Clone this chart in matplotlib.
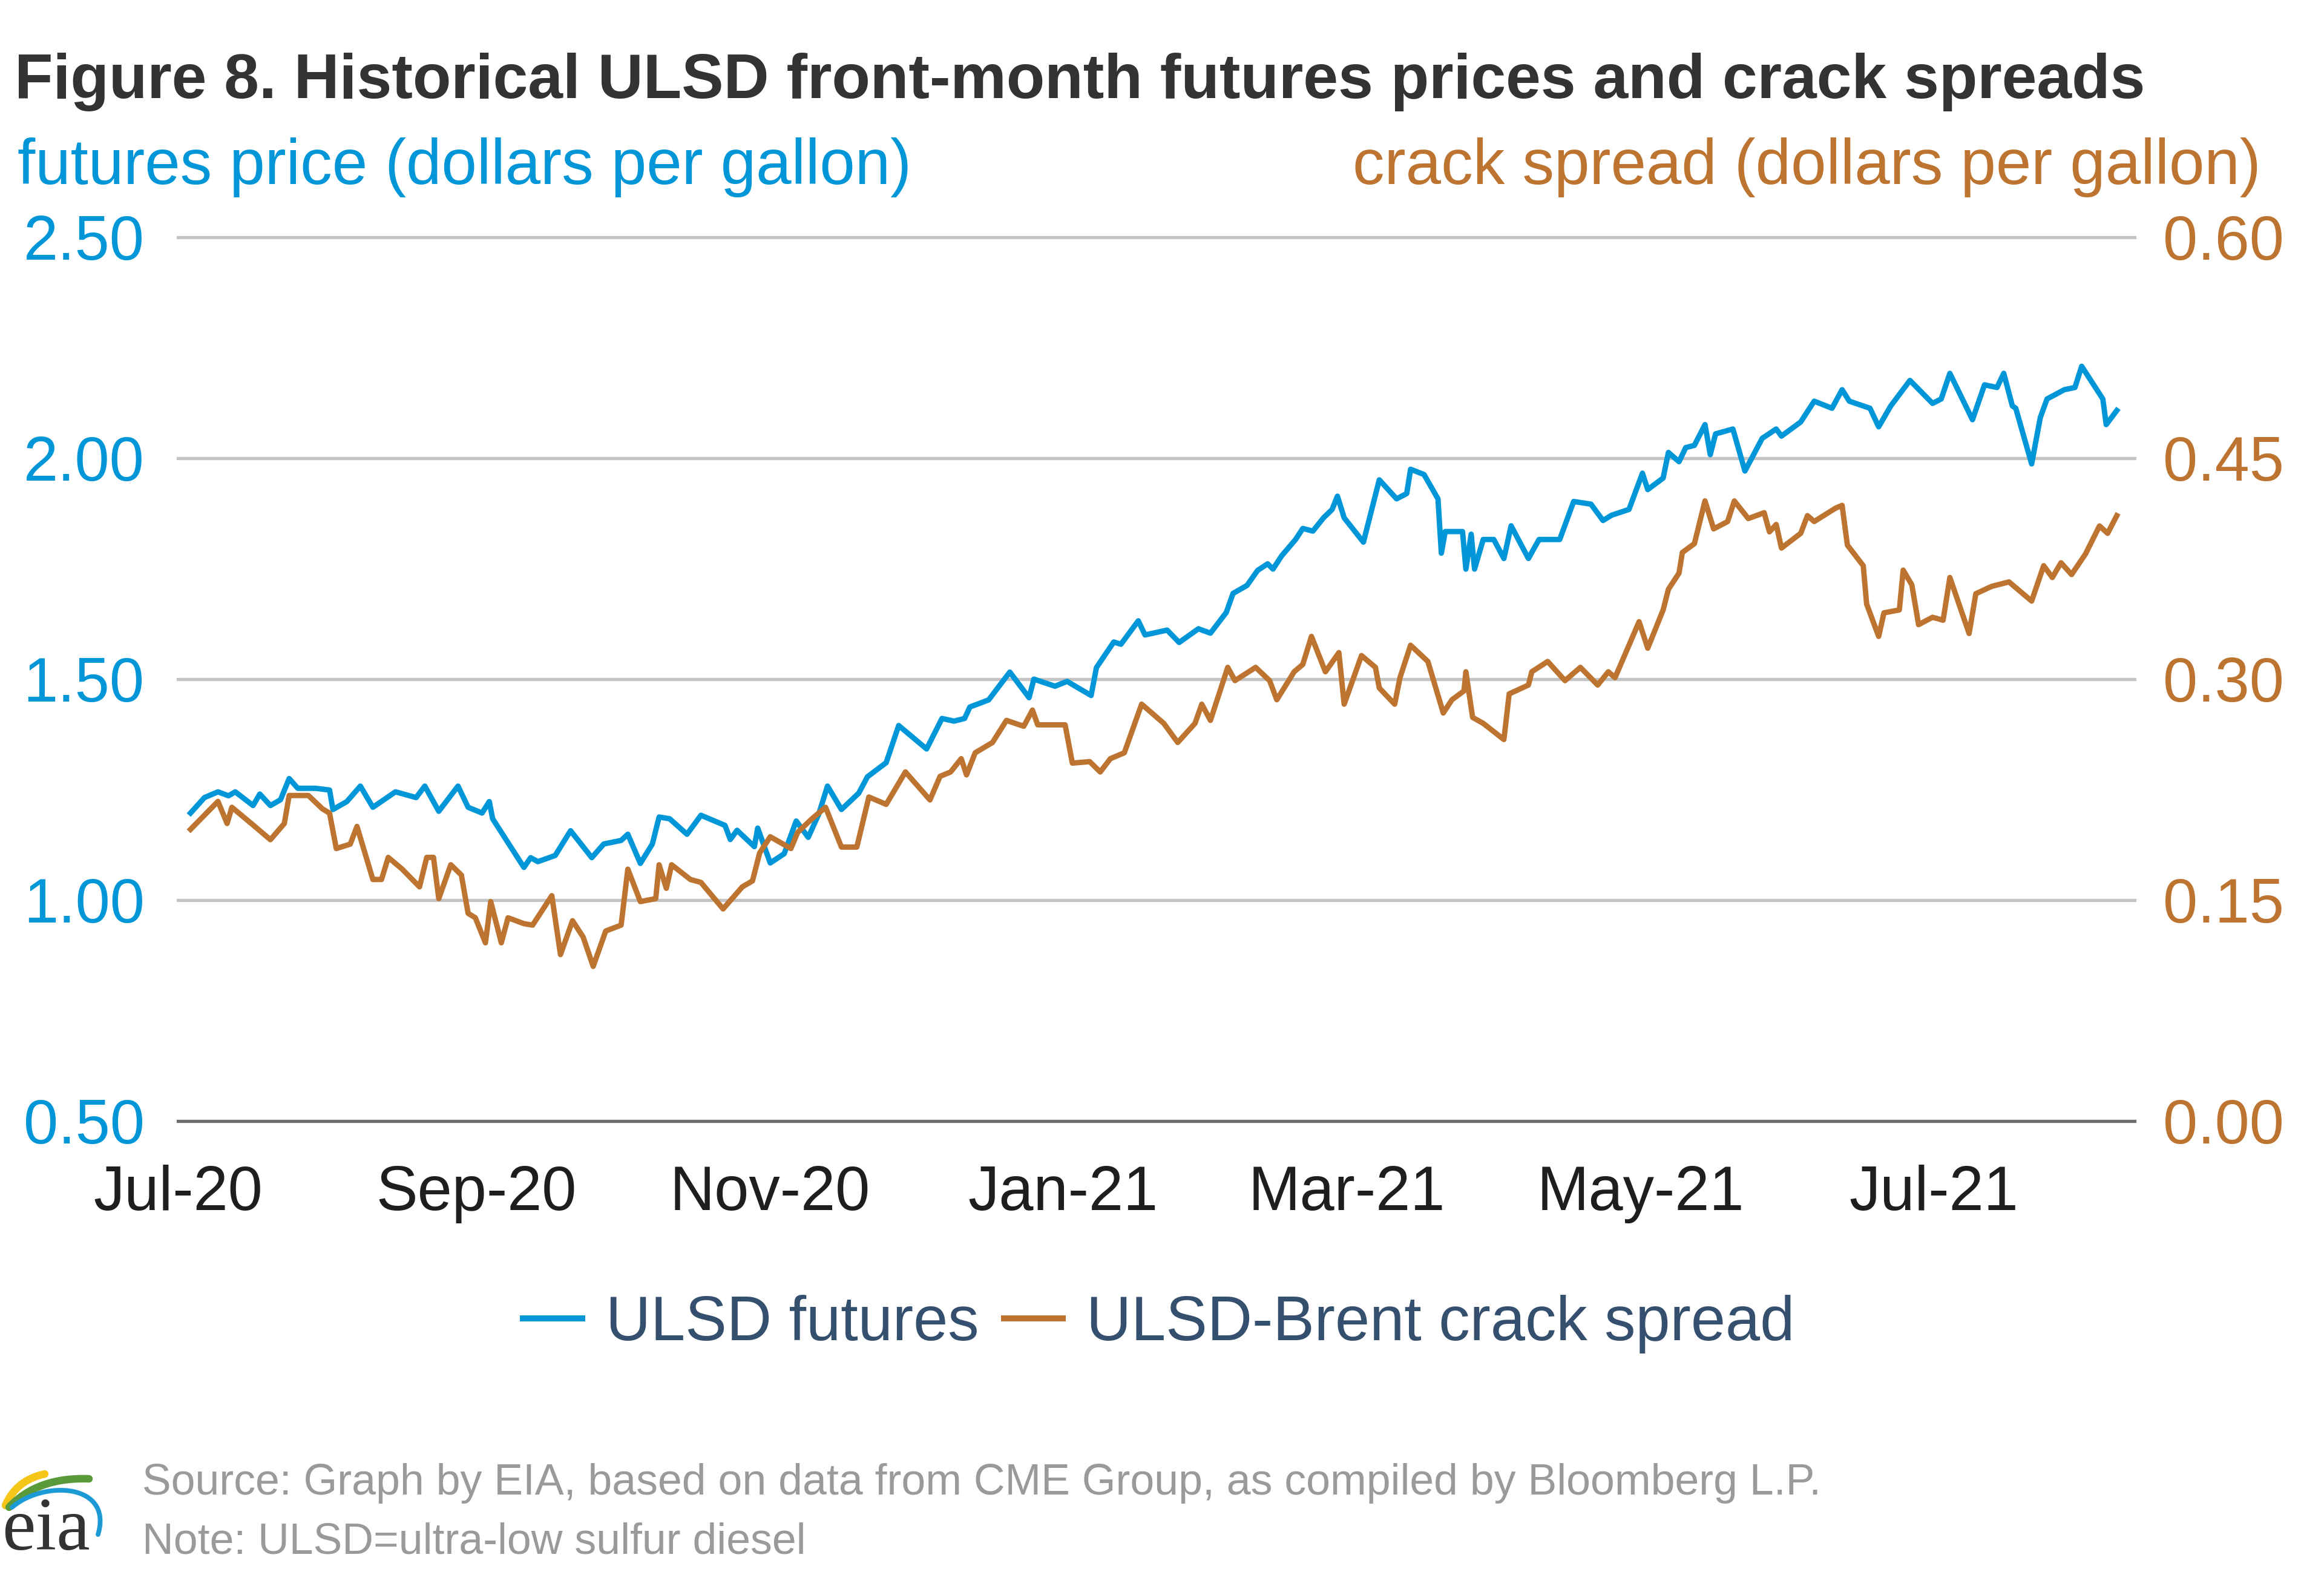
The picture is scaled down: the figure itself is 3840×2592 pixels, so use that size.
import datetime as dt
import numpy as np
import matplotlib
matplotlib.use('Agg')
import matplotlib.pyplot as plt
import matplotlib.dates as mdates
from matplotlib.lines import Line2D

# values, x = days since 2020-07-01
futures_days = [2.6, 5.5, 8.3, 10.5, 11.9, 15.6, 17.0, 19.2, 21.3, 23.1, 24.9, 28.6, 31.5, 32.2, 35.1,
                37.9, 40.5, 45.2, 49.5, 51.3, 54.2, 58.2, 60.3, 63.2, 64.7, 65.4, 71.9, 73.3, 74.8, 78.4,
                81.6, 86.0, 88.5, 92.1, 93.5, 96.1, 98.6, 100.0, 102.2, 105.8, 108.7, 113.7, 114.8, 116.2,
                119.8, 120.5, 123.1, 126.0, 128.5, 131.0, 133.2, 135.0, 137.9, 141.5, 143.3, 147.2, 149.8,
                155.6, 158.8, 161.3, 163.5, 164.6, 168.5, 172.9, 176.9, 177.9, 182.3, 184.8, 189.8, 190.9,
                194.5, 196.0, 199.6, 201.0, 205.6, 208.1, 212.1, 214.6, 217.9, 219.3, 222.2, 224.4, 226.5,
                227.6, 229.4, 232.3, 233.8, 235.9, 238.1, 239.9, 241.0, 242.4, 246.4, 249.7, 253.3, 255.4,
                256.2, 259.0, 261.9, 262.6, 263.4, 267.0, 267.7, 268.8, 269.5, 271.3, 273.5, 275.6, 277.1,
                280.7, 282.9, 287.2, 290.1, 293.7, 296.2, 298.0, 301.6, 304.4, 305.5, 308.7, 309.8, 312.0,
                313.4, 315.2, 317.4, 318.5, 319.6, 323.2, 325.7, 329.3, 332.2, 333.3, 337.3, 340.1, 343.8,
                345.9, 347.4, 351.7, 353.5, 356.0, 360.0, 364.7, 366.5, 368.3, 373.0, 375.5, 378.1, 379.5,
                381.3, 382.0, 385.3, 387.1, 388.5, 392.1, 394.3, 395.7, 400.1, 400.8, 403.0]
futures_price = [1.197, 1.232, 1.245, 1.236, 1.245, 1.214, 1.240, 1.214, 1.227, 1.275, 1.253, 1.253, 1.249,
                 1.205, 1.223, 1.258, 1.210, 1.245, 1.232, 1.258, 1.201, 1.258, 1.210, 1.197, 1.223, 1.184,
                 1.074, 1.096, 1.087, 1.101, 1.157, 1.096, 1.127, 1.135, 1.149, 1.083, 1.127, 1.188, 1.184,
                 1.149, 1.192, 1.169, 1.137, 1.158, 1.121, 1.163, 1.084, 1.105, 1.179, 1.142, 1.195, 1.258,
                 1.205, 1.242, 1.279, 1.311, 1.395, 1.342, 1.411, 1.405, 1.411, 1.437, 1.453, 1.516, 1.458,
                 1.500, 1.484, 1.495, 1.463, 1.526, 1.584, 1.579, 1.632, 1.600, 1.611, 1.583, 1.614, 1.604,
                 1.651, 1.694, 1.712, 1.746, 1.761, 1.749, 1.779, 1.816, 1.841, 1.835, 1.865, 1.884, 1.914,
                 1.865, 1.810, 1.951, 1.908, 1.920, 1.975, 1.963, 1.908, 1.785, 1.834, 1.834, 1.749, 1.828,
                 1.749, 1.816, 1.816, 1.773, 1.847, 1.773, 1.816, 1.816, 1.902, 1.896, 1.859, 1.871, 1.884,
                 1.966, 1.929, 1.955, 2.013, 1.992, 2.024, 2.029, 2.076, 2.008, 2.055, 2.066, 1.971, 2.045,
                 2.066, 2.050, 2.082, 2.129, 2.113, 2.155, 2.129, 2.113, 2.071, 2.118, 2.176, 2.124, 2.134,
                 2.192, 2.087, 2.166, 2.160, 2.192, 2.118, 2.113, 1.987, 2.092, 2.134, 2.155, 2.160, 2.208,
                 2.134, 2.076, 2.108]

crack_days = [2.6, 8.3, 10.2, 11.2, 15.6, 19.2, 22.1, 23.1, 27.1, 30.0, 31.5, 32.9, 35.8, 37.2, 40.5, 42.3,
              43.7, 46.6, 50.2, 51.7, 53.1, 54.2, 56.7, 58.9, 60.3, 61.8, 63.9, 65.0, 67.2, 68.6, 71.9, 73.7,
              77.7, 79.5, 82.0, 84.2, 86.3, 88.9, 92.1, 93.5, 96.1, 99.3, 100.0, 101.5, 102.6, 106.5, 108.7,
              113.3, 117.3, 119.4, 120.9, 123.1, 127.4, 128.8, 131.7, 134.6, 137.9, 141.1, 143.6, 147.2,
              151.2, 156.3, 158.4, 160.6, 162.8, 163.9, 165.7, 169.3, 172.2, 175.8, 177.6, 178.7, 184.4,
              185.9, 189.5, 191.7, 193.8, 196.7, 200.3, 204.9, 207.8, 211.4, 212.8, 214.6, 218.2, 219.7,
              224.0, 226.9, 228.4, 232.0, 233.8, 235.6, 238.5, 241.3, 242.4, 246.0, 248.9, 249.7, 252.9,
              254.0, 256.2, 259.8, 263.0, 264.8, 267.3, 267.7, 269.1, 271.3, 275.6, 276.7, 280.7, 281.4,
              284.7, 288.3, 291.5, 295.1, 297.3, 298.7, 303.7, 305.5, 308.7, 309.8, 312.0, 312.7, 315.2,
              317.4, 319.2, 322.1, 323.5, 326.4, 329.7, 330.8, 332.2, 333.3, 337.3, 338.7, 340.1, 344.5,
              345.9, 347.0, 350.3, 351.0, 353.5, 354.6, 357.8, 358.6, 360.4, 361.8, 364.7, 366.9, 368.3,
              372.3, 373.7, 377.0, 380.6, 385.3, 387.8, 389.6, 391.4, 393.6, 396.5, 399.4, 401.1, 403.0]
crack_spread = [0.198, 0.217, 0.202, 0.213, 0.201, 0.191, 0.202, 0.221, 0.221, 0.212, 0.209, 0.185, 0.188,
                0.200, 0.164, 0.164, 0.179, 0.171, 0.159, 0.179, 0.179, 0.151, 0.174, 0.167, 0.141, 0.138,
                0.121, 0.149, 0.121, 0.138, 0.134, 0.133, 0.153, 0.113, 0.136, 0.125, 0.105, 0.129, 0.133,
                0.171, 0.149, 0.151, 0.174, 0.158, 0.174, 0.164, 0.162, 0.144, 0.159, 0.163, 0.182, 0.193,
                0.185, 0.196, 0.205, 0.213, 0.186, 0.186, 0.220, 0.215, 0.237, 0.218, 0.234, 0.237, 0.246,
                0.235, 0.250, 0.257, 0.272, 0.268, 0.279, 0.269, 0.269, 0.243, 0.244, 0.237, 0.246, 0.250,
                0.283, 0.270, 0.257, 0.270, 0.283, 0.272, 0.308, 0.299, 0.308, 0.299, 0.286, 0.305, 0.310,
                0.329, 0.305, 0.318, 0.283, 0.316, 0.308, 0.294, 0.283, 0.301, 0.323, 0.312, 0.277, 0.286,
                0.292, 0.305, 0.274, 0.270, 0.259, 0.290, 0.296, 0.305, 0.312, 0.299, 0.308, 0.296, 0.305,
                0.301, 0.339, 0.321, 0.347, 0.361, 0.372, 0.386, 0.392, 0.421, 0.402, 0.407, 0.421, 0.409,
                0.413, 0.400, 0.405, 0.389, 0.399, 0.411, 0.407, 0.416, 0.418, 0.391, 0.377, 0.351, 0.329,
                0.345, 0.347, 0.374, 0.364, 0.337, 0.342, 0.340, 0.369, 0.331, 0.358, 0.363, 0.366, 0.353,
                0.377, 0.369, 0.379, 0.371, 0.385, 0.404, 0.399, 0.411]

left_ticks = [0.50, 1.00, 1.50, 2.00, 2.50]
right_ticks = [0.00, 0.15, 0.30, 0.45, 0.60]

blue = '#0096d7'
brown = '#bd7430'
start = dt.datetime(2020, 7, 1)

fut_dates = [start + dt.timedelta(days=d) for d in futures_days]
crack_dates = [start + dt.timedelta(days=d) for d in crack_days]

plt.rcParams['font.family'] = ['Liberation Sans', 'DejaVu Sans']

fig = plt.figure(figsize=(19.2, 12.96), dpi=200)
ax = fig.add_axes([0.0766, 0.2855, 0.8419, 0.5633])
ax2 = ax.twinx()

# grid lines (drawn by hand so the top one is not clipped)
for v in left_ticks[1:]:
    ax.axhline(v, color='#c4c4c4', lw=1.9, zorder=0, clip_on=False)
ax.axhline(left_ticks[0], color='#6e6e6e', lw=1.9, zorder=0, clip_on=False)

ax.plot(fut_dates, futures_price, color=blue, lw=3.2, zorder=3)
ax2.plot(crack_dates, crack_spread, color=brown, lw=3.2, zorder=3)

ax.set_ylim(left_ticks[0], left_ticks[-1])
ax2.set_ylim(right_ticks[0], right_ticks[-1])
ax.set_xlim(start, start + dt.timedelta(days=406.7))

ax.set_yticks(left_ticks)
ax.set_yticklabels(['%.2f' % v for v in left_ticks])
ax2.set_yticks(right_ticks)
ax2.set_yticklabels(['%.2f' % v for v in right_ticks])

ax.xaxis.set_major_locator(mdates.MonthLocator(bymonth=[1, 3, 5, 7, 9, 11]))
ax.xaxis.set_major_formatter(mdates.DateFormatter('%b-%y'))

ax.tick_params(axis='y', length=0, pad=20, labelsize=37, labelcolor=blue)
ax2.tick_params(axis='y', length=0, pad=17, labelsize=37, labelcolor=brown)
ax.tick_params(axis='x', length=0, pad=26, labelsize=37, labelcolor='#1e1e1e')

for a in (ax, ax2):
    for s in a.spines.values():
        s.set_visible(False)

fig.text(0.00625, 0.9375, 'Figure 8. Historical ULSD front-month futures prices and crack spreads',
         fontsize=37.4, fontweight='bold', color='#333333', ha='left', va='baseline')
fig.text(0.0076, 0.8827, 'futures price (dollars per gallon)', fontsize=37.8, color=blue,
         ha='left', va='baseline')
fig.text(0.9727, 0.8827, 'crack spread (dollars per gallon)', fontsize=37.8, color=brown,
         ha='right', va='baseline')

handles = [Line2D([], [], color=blue, lw=3.6), Line2D([], [], color=brown, lw=3.6)]
fig.legend(handles, ['ULSD futures', 'ULSD-Brent crack spread'], loc='center',
           bbox_to_anchor=(0.4987, 0.156), ncol=2, frameon=False, fontsize=37,
           handlelength=0.95, handletextpad=0.38, columnspacing=0.4, labelcolor='#34506e')

fig.text(0.0612, 0.0475, 'Source: Graph by EIA, based on data from CME Group, as compiled by Bloomberg L.P.',
         fontsize=25.8, color='#9a9a9a', ha='left', va='baseline')
fig.text(0.0612, 0.0100, 'Note: ULSD=ultra-low sulfur diesel',
         fontsize=25.8, color='#9a9a9a', ha='left', va='baseline')

# eia logo, rough
lax = fig.add_axes([0, 0, 200 / 3840, 200 / 2592])
lax.set_xlim(0, 200)
lax.set_ylim(2592, 2392)
lax.axis('off')
t = np.linspace(0, 1, 40)


def bez(p):
    p = np.array(p, dtype=float)
    n = len(p) - 1
    from math import comb
    pts = sum(comb(n, k) * ((1 - t) ** (n - k) * t ** k)[:, None] * p[k] for k in range(n + 1))
    return pts[:, 0], pts[:, 1]


x, y = bez([(9, 2487), (27, 2445), (74, 2435)])
lax.plot(x, y, color='#f5c518', lw=4.5, solid_capstyle='round')
x, y = bez([(15, 2490), (62, 2440), (147, 2443)])
lax.plot(x, y, color='#5a9a3a', lw=4.5, solid_capstyle='round')
x, y = bez([(20, 2490), (72, 2445), (187, 2450), (162, 2535)])
lax.plot(x, y, color='#1c9ad6', lw=2.8, solid_capstyle='round')
fig.text(0.0008, 0.0123, 'eia', fontsize=45, family='Liberation Serif', color='#333333',
         ha='left', va='baseline')

fig.savefig('out.png', dpi=200)
